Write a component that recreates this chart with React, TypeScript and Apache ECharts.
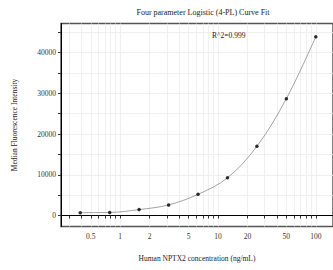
import React, { useEffect, useRef } from "react";
import * as echarts from "echarts";

const concentrations = [0.39, 0.78, 1.56, 3.125, 6.25, 12.5, 25, 50, 100];
const intensities = [700, 750, 1450, 2600, 5200, 9250, 17000, 28700, 43900];
const xTickValues = [
  0.3, 0.4, 0.5, 0.6, 0.7, 0.8, 0.9, 1, 2, 3, 4, 5, 6, 7, 8, 9, 10, 20, 30, 40, 50, 60, 70, 80, 90, 100,
];
const xLabelValues = [0.5, 1, 2, 5, 10, 20, 50, 100];
const yTickValues = [0, 5000, 10000, 15000, 20000, 25000, 30000, 35000, 40000, 45000];
const yLabelValues = [0, 10000, 20000, 30000, 40000];

const FONT = "Liberation Serif";

export default function App() {
  const ref = useRef<HTMLDivElement>(null);
  useEffect(() => {
    if (!ref.current) return;
    const chart = echarts.init(ref.current, undefined, { renderer: "svg" });
    const pts = concentrations.map((c, i) => [c, intensities[i]]);
    chart.setOption({
      animation: false,
      backgroundColor: "#ffffff",
      title: {
        text: "Four parameter Logistic (4-PL) Curve Fit",
        left: 198,
        top: 3,
        textAlign: "center",
        textStyle: { fontFamily: FONT, fontSize: 8, fontWeight: "normal", color: "#222" },
      },
      grid: {
        left: 61,
        top: 23.5,
        right: -3,
        bottom: 43.5,
        show: true,
        borderColor: "#555",
        borderWidth: 1.5,
      },
      xAxis: {
        type: "log",
        logBase: 10,
        min: 0.248,
        max: 150,
        name: "Human NPTX2 concentration (ng/mL)",
        nameLocation: "middle",
        nameGap: 28,
        nameTextStyle: { fontFamily: FONT, fontSize: 7.5, color: "#222" },
        axisLine: { show: true, lineStyle: { color: "#000", width: 1 } },
        axisTick: { show: true, length: 3, customValues: xTickValues, lineStyle: { color: "#333" } },
        axisLabel: {
          customValues: xLabelValues,
          fontFamily: FONT,
          fontSize: 7.5,
          color: "#333",
          margin: 6,
          formatter: (v: number) => String(v),
        },
        splitLine: { show: true, lineStyle: { color: "#ececec", width: 0.8 } },
        minorTick: { show: false },
      },
      yAxis: {
        type: "value",
        min: -2700,
        max: 47170,
        name: "Median Fluorescence Intensity",
        nameLocation: "middle",
        nameGap: 43,
        nameTextStyle: { fontFamily: FONT, fontSize: 7.5, color: "#222" },
        axisLine: { show: true, lineStyle: { color: "#000", width: 1 } },
        axisTick: { show: true, length: 3, customValues: yTickValues, lineStyle: { color: "#333" } },
        axisLabel: {
          customValues: yLabelValues,
          fontFamily: FONT,
          fontSize: 7.5,
          color: "#333",
          margin: 5,
          formatter: (v: number) => String(v),
        },
        splitLine: { show: true, lineStyle: { color: "#ececec", width: 0.8 } },
      },
      graphic: [
        {
          type: "text",
          left: 212,
          top: 31,
          z: 10,
          style: { text: "R^2=0.999", fontFamily: FONT, fontSize: 7.5, fill: "#222" },
        },
      ],
      series: [
        {
          type: "line",
          data: pts,
          smooth: 0.35,
          showSymbol: false,
          lineStyle: { color: "#8a8a8a", width: 0.8 },
          z: 2,
        },
        {
          type: "scatter",
          data: pts,
          symbolSize: 3.5,
          itemStyle: { color: "#000" },
          z: 3,
        },
      ],
    });
    return () => chart.dispose();
  }, []);
  return (
    <div
      ref={ref}
      style={{ position: "absolute", left: 0, top: 0, width: 333, height: 270 }}
    />
  );
}
